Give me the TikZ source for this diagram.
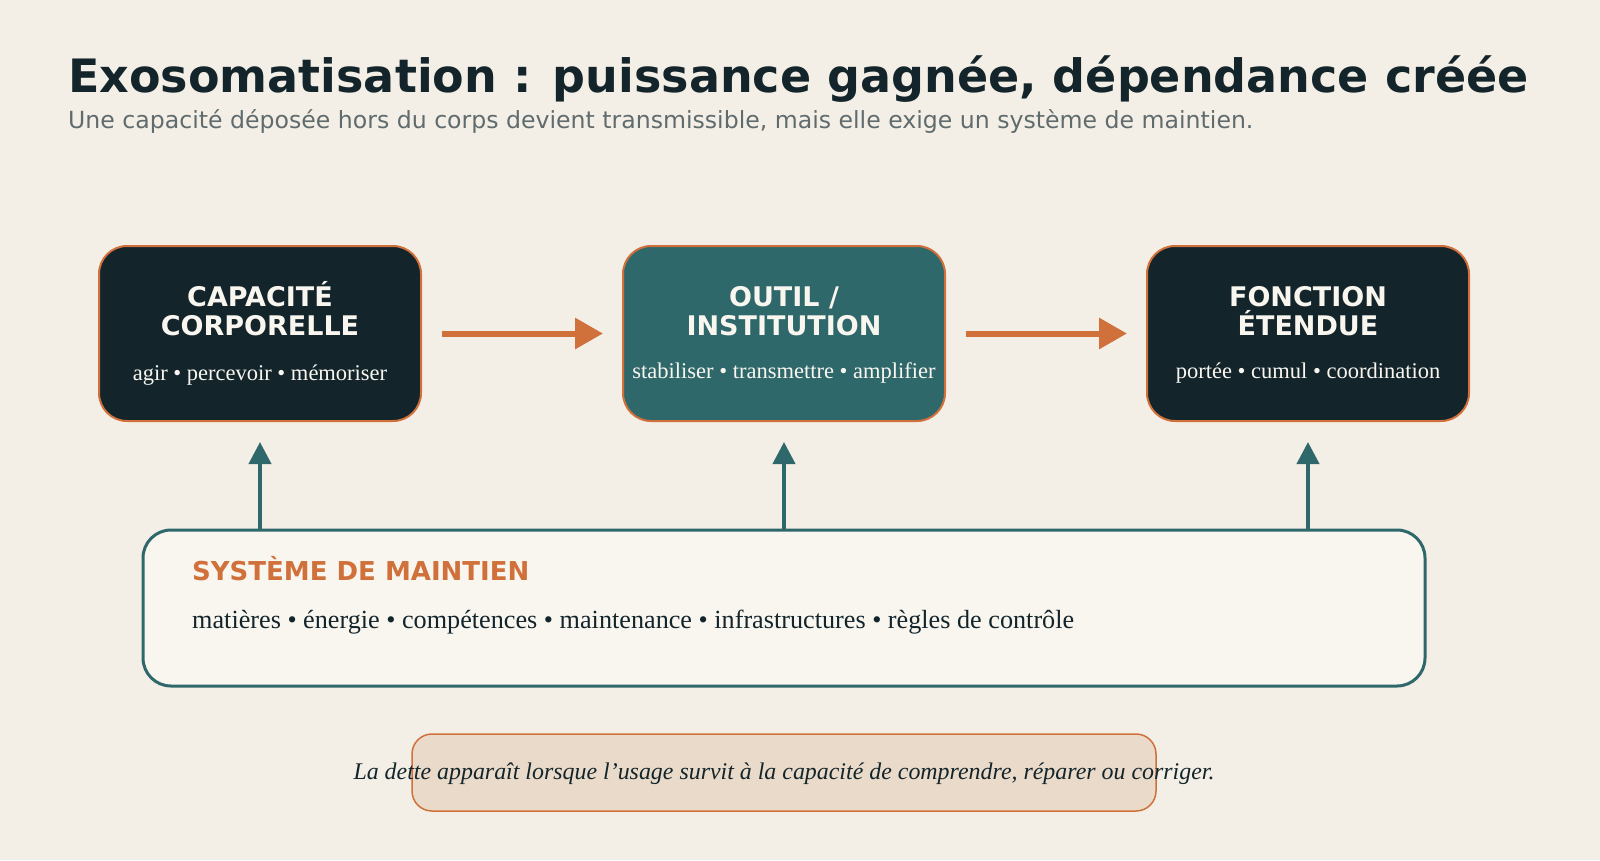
\documentclass[tikz,border=0pt]{standalone}
\usepackage{fontspec}
\setmainfont{Liberation Serif}
\setsansfont{DejaVu Sans}
\usepackage{xcolor}
\usepackage{tikz}
\usetikzlibrary{arrows.meta}

\definecolor{fond}{HTML}{F4EFE6}
\definecolor{encre}{HTML}{13252B}
\definecolor{sarcelle}{HTML}{2F686B}
\definecolor{cuivre}{HTML}{D0703A}
\definecolor{gris}{HTML}{5F6B6D}
\definecolor{creme}{HTML}{F9F6F0}
\definecolor{sable}{HTML}{EADACA}

\tikzset{
  boite/.style={draw=cuivre, line width=2pt, rounded corners=28pt,
    minimum width=322pt, minimum height=175pt},
  titreboite/.style={text=creme, font=\sffamily\bfseries\fontsize{27}{30}\selectfont, align=center},
  sousboite/.style={text=creme, font=\fontsize{22.5}{26}\selectfont},
  fleche/.style={cuivre, line width=6pt, -{Triangle[length=28pt,width=30pt]}},
  monte/.style={sarcelle, line width=4pt, -{Triangle[length=22pt,width=22pt]}}
}

\begin{document}
\begin{tikzpicture}[x=1pt, y=-1pt]
    % Fond
    \fill[fond] (0,0) rectangle (1600,860);
    \useasboundingbox (0,0) rectangle (1600,860);

    % Titre et sous-titre
    \node[anchor=base west, inner sep=0, text=encre, font=\sffamily\bfseries\fontsize{46}{52}\selectfont] (titre) at (68,92) {Exosomatisation : puissance gagnée, dépendance créée};
    \node[anchor=base west, inner sep=0, text=gris, font=\sffamily\fontsize{23.6}{28}\selectfont] (soustitre) at (68,128) {Une capacité déposée hors du corps devient transmissible, mais elle exige un système de maintien.};

    % Les trois boites du haut
    \node[boite, fill=encre] (b1) at (260,333.5) {};
    \node[boite, fill=sarcelle] (b2) at (784,333.5) {};
    \node[boite, fill=encre] (b3) at (1308,333.5) {};

    \node[titreboite] (t1) at (260,309) {CAPACITÉ\\[-1pt]CORPORELLE};
    \node[titreboite] (t2) at (784,311) {OUTIL /\\[-1pt]INSTITUTION};
    \node[titreboite] (t3) at (1308,311) {FONCTION\\[-1pt]ÉTENDUE};

    \node[sousboite] (s1) at (260,375) {agir • percevoir • mémoriser};
    \node[sousboite] (s2) at (784,373) {stabiliser • transmettre • amplifier};
    \node[sousboite] (s3) at (1308,373) {portée • cumul • coordination};

    % Fleches horizontales
    \draw[fleche, shorten <=20pt, shorten >=19pt] (b1) -- (b2);
    \draw[fleche, shorten <=20pt, shorten >=19pt] (b2) -- (b3);

    % Systeme de maintien
    \node[draw=sarcelle, line width=3pt, fill=creme, rounded corners=28pt,
      minimum width=1282pt, minimum height=156pt] (sys) at (784,608) {};
    \node[anchor=base west, inner sep=0, text=cuivre, font=\sffamily\bfseries\fontsize{26}{30}\selectfont] (systitre) at (192,580) {SYSTÈME DE MAINTIEN};
    \node[anchor=base west, inner sep=0, text=encre, font=\fontsize{26.2}{30}\selectfont] (sysliste) at (192,628) {matières • énergie • compétences • maintenance • infrastructures • règles de contrôle};

    % Fleches vers le haut
    \coordinate (m1) at (260,530);
    \coordinate (m2) at (784,530);
    \coordinate (m3) at (1308,530);
    \draw[monte, shorten >=20pt] (m1) -- (b1.south);
    \draw[monte, shorten >=20pt] (m2) -- (b2.south);
    \draw[monte, shorten >=20pt] (m3) -- (b3.south);

    % Note du bas
    \node[draw=cuivre, line width=1.5pt, fill=sable, rounded corners=20pt,
      minimum width=744pt, minimum height=77pt] (note) at (784,772.5) {};
    \node[anchor=base, inner sep=0, text=encre, font=\itshape\fontsize{23.9}{28}\selectfont] (notetexte) at (784,779) {La dette apparaît lorsque l’usage survit à la capacité de comprendre, réparer ou corriger.};

\end{tikzpicture}
\end{document}
